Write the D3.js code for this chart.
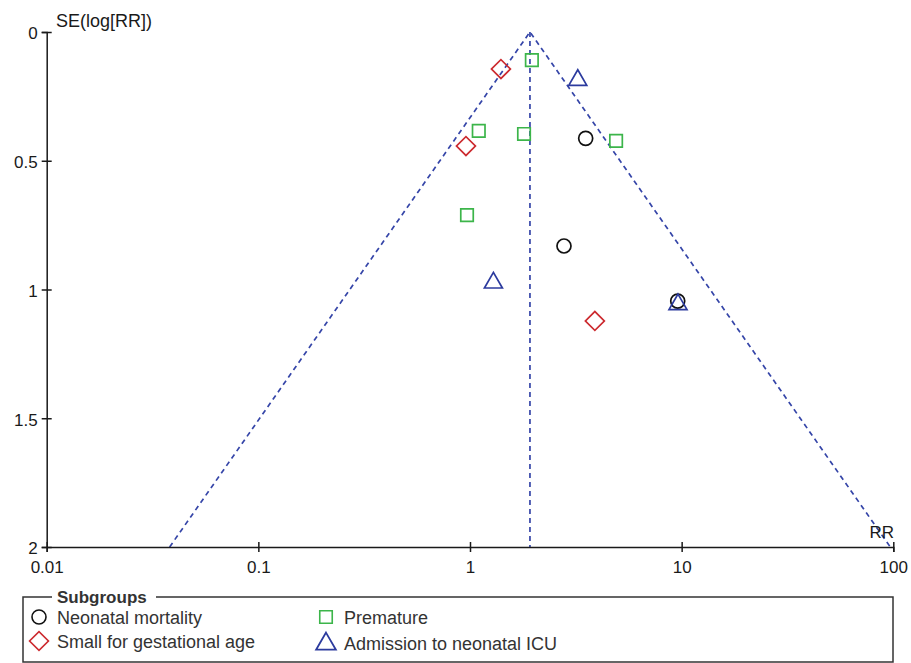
<!DOCTYPE html>
<html>
<head>
<meta charset="utf-8">
<script src="https://cdn.jsdelivr.net/npm/d3@7"></script>
<style>
  body { margin: 0; background: #fff; }
  svg { font-family: "Liberation Sans", Arial, sans-serif; }
</style>
</head>
<body>
<svg width="911" height="663"></svg>
<script>
// values
var xTicks = [0.01, 0.1, 1, 10, 100];
var xTickLabels = ["0.01", "0.1", "1", "10", "100"];
var yTicks = [0, 0.5, 1, 1.5, 2];
var yTickLabels = ["0", "0.5", "1", "1.5", "2"];

var pooledRR = 1.92;

var subgroupNames = ["Neonatal mortality", "Small for gestational age", "Premature", "Admission to neonatal ICU"];

var mortalityRR = [3.52, 2.78, 9.58];
var mortalitySE = [0.413, 0.831, 1.045];

var sgaRR = [1.40, 0.957, 3.89];
var sgaSE = [0.144, 0.443, 1.122];

var prematureRR = [1.96, 1.10, 1.80, 4.90, 0.968];
var prematureSE = [0.109, 0.384, 0.396, 0.423, 0.711];

var icuRR = [3.23, 1.29, 9.61];
var icuSE = [0.187, 0.974, 1.058];

var svg = d3.select("svg");

var margins = {left: 46.7, right: 17.7, top: 32, bottom: 116};
var xScale = d3.scaleLog()
    .domain([0.01, 100])
    .range([margins.left, 911 - margins.right]);
var yScale = d3.scaleLinear()
    .domain([0, 2])
    .range([margins.top, 663 - margins.bottom]);

var symbolFor = {
    circle: d3.symbol().type(d3.symbolCircle).size(154),
    square: d3.symbol().type(d3.symbolSquare).size(156),
    diamond: d3.symbol().type(d3.symbolSquare).size(180),
    triangle: d3.symbol().type(d3.symbolTriangle).size(140)
};

var groups = [
    {name: subgroupNames[0], rr: mortalityRR, se: mortalitySE, shape: "circle", color: "#111111"},
    {name: subgroupNames[1], rr: sgaRR, se: sgaSE, shape: "diamond", color: "#cc2a2f"},
    {name: subgroupNames[2], rr: prematureRR, se: prematureSE, shape: "square", color: "#3cb54a"},
    {name: subgroupNames[3], rr: icuRR, se: icuSE, shape: "triangle", color: "#2c3b9e"}
];

var makeTranslateString = function(x, y, rot)
{
    return "translate(" + x + "," + y + ")" + (rot ? " rotate(" + rot + ")" : "");
};

//funnel guide lines
var funnelColor = "#3545a8";
var lower = pooledRR * Math.exp(-1.96 * 2);
var upper = pooledRR * Math.exp(1.96 * 2);
var funnel = svg.append("g")
    .attr("fill", "none")
    .attr("stroke", funnelColor)
    .attr("stroke-width", 1.7)
    .attr("stroke-dasharray", "5,4");
funnel.append("path")
    .attr("d", d3.line()([
        [xScale(lower), yScale(2)],
        [xScale(pooledRR), yScale(0)],
        [xScale(upper), yScale(2)]
    ]));
funnel.append("line")
    .attr("x1", xScale(pooledRR)).attr("x2", xScale(pooledRR))
    .attr("y1", yScale(0)).attr("y2", yScale(2));

//axes
var xAxis = d3.axisBottom(xScale)
    .tickValues(xTicks)
    .tickFormat(function(d, i) { return xTickLabels[i]; })
    .tickSizeOuter(0)
    .tickSize(5)
    .tickPadding(9);
var yAxis = d3.axisLeft(yScale)
    .tickValues(yTicks)
    .tickFormat(function(d, i) { return yTickLabels[i]; })
    .tickSizeOuter(0)
    .tickSize(5)
    .tickPadding(4);

var gx = svg.append("g")
    .attr("transform", makeTranslateString(0, yScale(2)))
    .call(xAxis);
var gy = svg.append("g")
    .attr("transform", makeTranslateString(xScale(0.01), 0))
    .call(yAxis);

[gx, gy].forEach(function(g) {
    g.select(".domain").attr("stroke", "#1a1a1a").attr("stroke-width", 1.5);
    g.selectAll(".tick text").attr("font-size", 17).attr("fill", "#1a1a1a")
        .attr("font-family", "Liberation Sans, Arial, sans-serif");
});
gx.selectAll(".tick line").attr("y1", -5).attr("y2", 5).attr("stroke", "#1a1a1a").attr("stroke-width", 1.5);
gy.selectAll(".tick line").attr("x1", -5).attr("x2", 5).attr("stroke", "#1a1a1a").attr("stroke-width", 1.5);
gy.selectAll(".tick text").attr("dy", "0.4em");

//axis titles
svg.append("text")
    .text("SE(log[RR])")
    .attr("x", 56).attr("y", 27)
    .attr("font-size", 18)
    .attr("fill", "#1a1a1a");
svg.append("text")
    .text("RR")
    .attr("x", 894).attr("y", 538)
    .attr("text-anchor", "end")
    .attr("font-size", 17)
    .attr("fill", "#1a1a1a");

//points
groups.forEach(function(g) {
    var pts = g.rr.map(function(r, i) { return {rr: r, se: g.se[i]}; });
    svg.append("g")
        .selectAll("path")
        .data(pts)
        .enter()
        .append("path")
        .attr("d", symbolFor[g.shape])
        .attr("transform", function(p) {
            return makeTranslateString(xScale(p.rr), yScale(p.se), g.shape == "diamond" ? 45 : 0);
        })
        .attr("fill", "none")
        .attr("stroke", g.color)
        .attr("stroke-width", 1.7);
});

//legend
var legend = svg.append("g");
legend.append("rect")
    .attr("x", 23).attr("y", 597)
    .attr("width", 870).attr("height", 65)
    .attr("fill", "none")
    .attr("stroke", "#333")
    .attr("stroke-width", 1.5);
legend.append("rect")
    .attr("x", 52).attr("y", 590)
    .attr("width", 104).attr("height", 12)
    .attr("fill", "#fff");
legend.append("text")
    .text("Subgroups")
    .attr("x", 57).attr("y", 603)
    .attr("font-size", 17)
    .attr("font-weight", "bold")
    .attr("fill", "#333");

var legendPos = [[39, 617], [39, 641], [326, 617], [326, 643]];
var entries = legend.selectAll("g.entry")
    .data(groups)
    .enter()
    .append("g")
    .attr("class", "entry")
    .attr("transform", function(g, i) { return makeTranslateString(legendPos[i][0], legendPos[i][1]); });
entries.append("path")
    .attr("d", function(g) { return symbolFor[g.shape](); })
    .attr("transform", function(g) { return g.shape == "diamond" ? "rotate(45)" : (g.shape == "triangle" ? "translate(0,1) scale(1.1)" : ""); })
    .attr("fill", "none")
    .attr("stroke", function(g) { return g.color; })
    .attr("stroke-width", 1.6);
entries.append("text")
    .text(function(g) { return g.name; })
    .attr("x", 18).attr("y", 7)
    .attr("font-size", 18)
    .attr("fill", "#333");
</script>
</body>
</html>
